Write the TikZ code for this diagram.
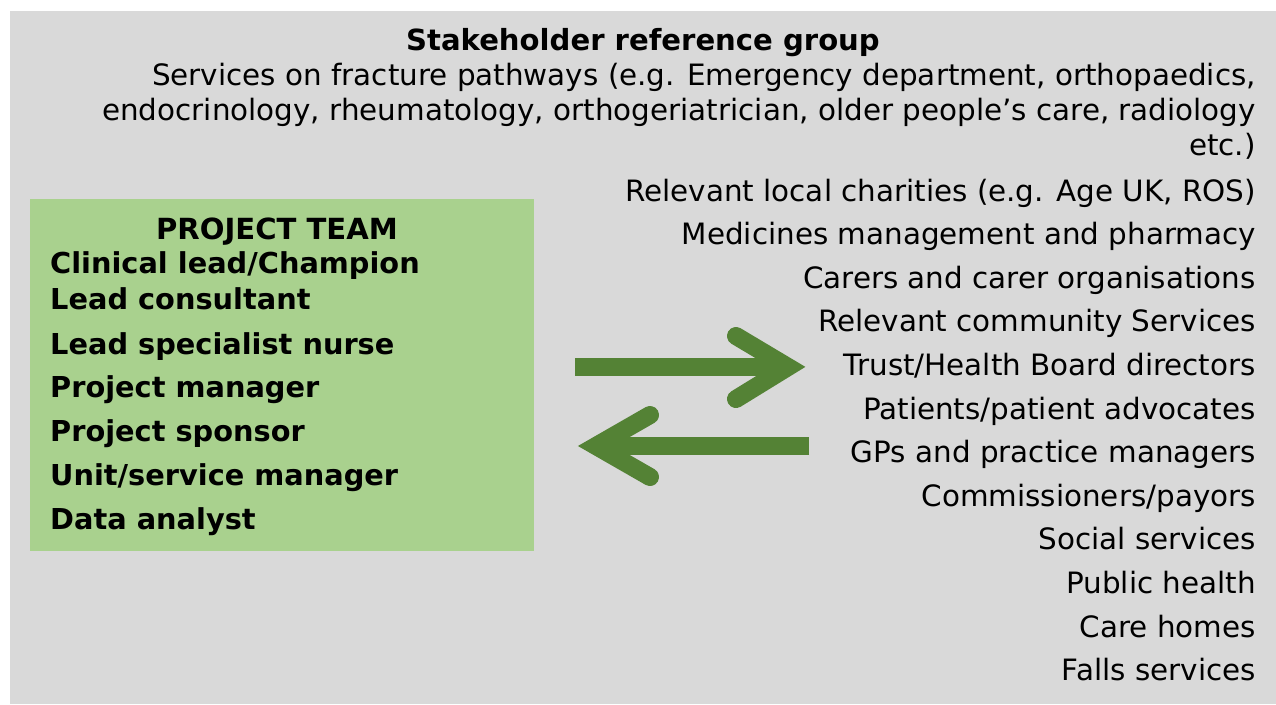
\documentclass[tikz,border=0pt]{standalone}
\usepackage{fontspec}
\setmainfont{DejaVu Sans}
\usetikzlibrary{positioning}
\definecolor{panelgray}{HTML}{D9D9D9}
\definecolor{teamgreen}{HTML}{A9D18E}
\definecolor{arrowgreen}{HTML}{548235}
\tikzset{
  txt/.style={inner sep=0pt, font=\fontsize{29.4}{35}\selectfont},
  boldtxt/.style={inner sep=0pt, font=\fontsize{29.1}{35}\selectfont\bfseries},
  member/.style={inner sep=0pt, anchor=base west, font=\fontsize{28.8}{35}\selectfont\bfseries},
  holder/.style={txt, anchor=base east},
  shaft/.style={line width=18pt, arrowgreen},
  barb/.style={line width=18pt, arrowgreen, line cap=round, line join=miter}
}
\begin{document}
\begin{tikzpicture}[x=1pt,y=-1pt]
\useasboundingbox (0,0) rectangle (1276,704);
\fill[panelgray] (10,11) rectangle (1276,704);

% stakeholder reference group
\node[boldtxt, anchor=base] (title) at (643,50) {Stakeholder reference group};
\node[holder] (path1) at (1256,85) {Services on fracture pathways (e.g. Emergency department, orthopaedics,};
\node[holder] (path2) at (1256,120) {endocrinology, rheumatology, orthogeriatrician, older people’s care, radiology};
\node[holder] (path3) at (1256,155) {etc.)};
\foreach \txt [count=\i] in {{Relevant local charities (e.g. Age UK, ROS)},
    Medicines management and pharmacy, Carers and carer organisations,
    Relevant community Services, Trust/Health Board directors,
    Patients/patient advocates, GPs and practice managers,
    Commissioners/payors, Social services, Public health,
    Care homes, Falls services}
  \node[holder] (s\i) at (1256,{201+43.6*(\i-1)}) {\txt};

% project team
\node[fill=teamgreen, minimum width=504pt, minimum height=352pt, inner sep=0pt] (team) at (282,375) {};
\node[boldtxt, anchor=base] (teamhead) at (277,239) {PROJECT TEAM};
\foreach \y/\txt [count=\i] in {273/{Clinical lead/Champion}, 309/Lead consultant,
    354/Lead specialist nurse, 397/Project manager, 441/Project sponsor,
    485/{Unit/service manager}, 529/Data analyst}
  \node[member] (m\i) at (50,\y) {\txt};

% arrows
\coordinate (ra) at (575,367);
\coordinate (rb) at (788,367);
\coordinate (rtip) at (788,367);
\draw[shaft] (ra) -- (rb);
\draw[barb] (736,336) -- (rtip) -- (736,399);
\coordinate (la) at (809,445.5);
\coordinate (lb) at (600,445.5);
\coordinate (ltip) at (596,446);
\draw[shaft] (la) -- (lb);
\draw[barb] (650,415) -- (ltip) -- (650,477);
\end{tikzpicture}
\end{document}
